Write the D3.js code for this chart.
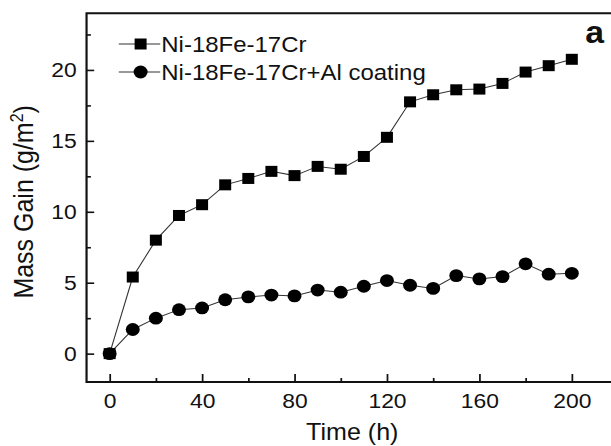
<!DOCTYPE html>
<html>
<head>
<meta charset="utf-8">
<script src="https://cdn.jsdelivr.net/npm/d3@7"></script>
<style>
  body { margin: 0; background: #fff; }
  svg { display: block; }
  text { font-family: "Liberation Sans", Arial, sans-serif; fill: #111; }
</style>
</head>
<body>
<svg id="chart"></svg>
<script>
// the source picture is a little wider than tall, so draw in a narrower box and stretch it
let W = 611
let H = 446
let stretch = 1.09

let hours = [0, 10, 20, 30, 40, 50, 60, 70, 80, 90, 100, 110, 120, 130, 140, 150, 160, 170, 180, 190, 200]
let bare = [0, 5.4, 8.0, 9.74, 10.5, 11.9, 12.35, 12.85, 12.55, 13.2, 13.0, 13.9, 15.25, 17.75, 18.25, 18.6, 18.65, 19.05, 19.85, 20.3, 20.75]
let coated = [0, 1.7, 2.5, 3.1, 3.22, 3.8, 4.0, 4.13, 4.07, 4.48, 4.33, 4.75, 5.15, 4.82, 4.6, 5.5, 5.27, 5.43, 6.33, 5.6, 5.66]
let seriesNames = ["Ni-18Fe-17Cr", "Ni-18Fe-17Cr+Al coating"]
let xTicks = [0, 40, 80, 120, 160, 200]
let xMinor = [20, 60, 100, 140, 180]
let yTicks = [0, 5, 10, 15, 20]
let yMinor = [2.5, 7.5, 12.5, 17.5, 22.5]

let svg = d3.select("#chart")
  .attr("width", W)
  .attr("height", H)
  .attr("viewBox", "0 0 " + (W / stretch) + " " + H)
  .attr("preserveAspectRatio", "none")

let x = d3.scaleLinear().domain([-10, 220]).range([79.4, 567])
let y = d3.scaleLinear().domain([-2, 24]).range([382, 13.2])

// frame (right side runs off the picture)
svg.append("path")
  .attr("d", "M" + x(220) + "," + y(24) + "H" + x(-10) + "V" + y(-2) + "H" + x(220))
  .attr("fill", "none")
  .attr("stroke", "#111")
  .attr("stroke-width", 2)

let xAxis = svg.append("g").attr("transform", "translate(0," + y(-2) + ")")
xAxis.call(d3.axisBottom(x).tickValues(xTicks).tickSize(-8).tickPadding(11).tickFormat(d3.format("d")))
xAxis.append("g").call(d3.axisBottom(x).tickValues(xMinor).tickSize(-4).tickFormat(""))

let yAxis = svg.append("g").attr("transform", "translate(" + x(-10) + ",0)")
yAxis.call(d3.axisLeft(y).tickValues(yTicks).tickSize(-7).tickPadding(9).tickFormat(d3.format("d")))
yAxis.append("g").call(d3.axisLeft(y).tickValues(yMinor).tickSize(-4).tickFormat(""))

svg.selectAll(".domain").remove()
svg.selectAll(".tick line").attr("stroke", "#111").attr("stroke-width", 1.6)
svg.selectAll(".tick text").attr("font-size", 21).attr("fill", "#111")
  .style("font-family", '"Liberation Sans", Arial, sans-serif')

let line = d3.line().x((d, i) => x(hours[i])).y(d => y(d))

svg.append("path").datum(coated).attr("d", line)
  .attr("fill", "none").attr("stroke", "#333").attr("stroke-width", 1)
svg.append("path").datum(bare).attr("d", line)
  .attr("fill", "none").attr("stroke", "#333").attr("stroke-width", 1)

svg.selectAll("circle.pt").data(coated).join("circle")
  .attr("class", "pt")
  .attr("cx", (d, i) => x(hours[i]))
  .attr("cy", d => y(d))
  .attr("r", 6.4)
  .attr("fill", "#000")

let sq = 11
svg.selectAll("rect.pt").data(bare).join("rect")
  .attr("class", "pt")
  .attr("x", (d, i) => x(hours[i]) - sq / 2)
  .attr("y", d => y(d) - sq / 2)
  .attr("width", sq)
  .attr("height", sq)
  .attr("fill", "#000")

// legend
let legend = svg.append("g")
let rows = [44, 72]
rows.forEach((ry, i) => {
  legend.append("line")
    .attr("x1", 109).attr("x2", 147).attr("y1", ry).attr("y2", ry)
    .attr("stroke", "#333").attr("stroke-width", 1)
  if (i === 0) {
    legend.append("rect").attr("x", 129 - sq / 2).attr("y", ry - sq / 2)
      .attr("width", sq).attr("height", sq).attr("fill", "#000")
  } else {
    legend.append("circle").attr("cx", 129).attr("cy", ry).attr("r", 6.4).attr("fill", "#000")
  }
  legend.append("text")
    .attr("x", 148).attr("y", ry)
    .attr("dy", "0.36em")
    .attr("font-size", 22)
    .text(seriesNames[i])
})

svg.append("text")
  .attr("x", 537).attr("y", 43)
  .attr("font-size", 31)
  .attr("font-weight", "bold")
  .text("a")

svg.append("text")
  .attr("x", x(105)).attr("y", 440)
  .attr("text-anchor", "middle")
  .attr("font-size", 23)
  .text("Time (h)")

let yl = svg.append("text")
  .attr("transform", "translate(30," + y(10.7) + ") rotate(-90)")
  .attr("text-anchor", "middle")
  .attr("font-size", 25)
yl.append("tspan").text("Mass Gain (g/m")
yl.append("tspan").attr("font-size", 16).attr("dy", -9).text("2")
yl.append("tspan").attr("dy", 9).text(")")
</script>
</body>
</html>
